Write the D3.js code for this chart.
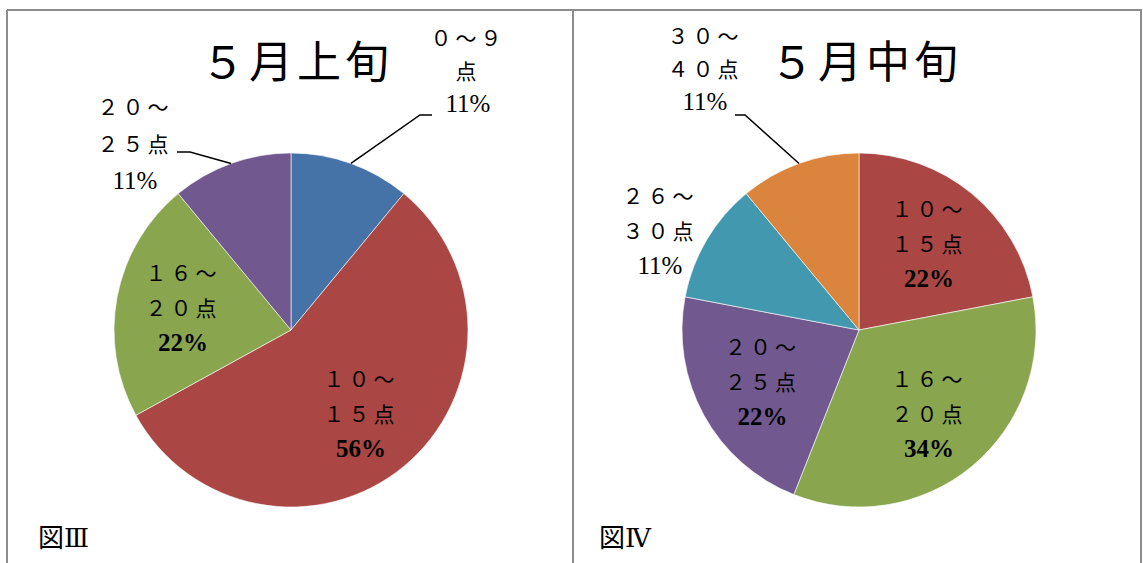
<!DOCTYPE html>
<html>
<head>
<meta charset="utf-8">
<script src="https://cdn.jsdelivr.net/npm/d3@7"></script>
<style>
	body { margin: 0; background: #fff; }
	svg text { font-family: "Liberation Serif", "DejaVu Serif", "Noto Sans CJK JP", serif; fill: #000; }
</style>
</head>
<body>
<script>
// data: 図Ⅲ (5月上旬)
const catsA = ["０～９\n点", "１０～\n１５点", "１６～\n２０点", "２０～\n２５点"];
const valsA = [11, 56, 22, 11];
const colorsA = ["#4572A7", "#AA4643", "#89A54E", "#71588F"];

// data: 図Ⅳ (5月中旬)
const catsB = ["１０～\n１５点", "１６～\n２０点", "２０～\n２５点", "２６～\n３０点", "３０～\n４０点"];
const valsB = [22, 34, 22, 11, 11];
const colorsB = ["#AA4643", "#89A54E", "#71588F", "#4198AF", "#DB843D"];

const titles = ["５月上旬", "５月中旬"];
const figLabels = ["図Ⅲ", "図Ⅳ"];

const W = 1143, H = 563;
const svg = d3.select("body").append("svg")
	.attr("width", W)
	.attr("height", H);

// frame
const frame = svg.append("g")
	.attr("stroke", "#8c8c8c")
	.attr("stroke-width", 2)
	.attr("fill", "none");
frame.append("line").attr("x1", 7).attr("x2", 1142).attr("y1", 10).attr("y2", 10);
[7, 573, 1141].forEach(x => {
	frame.append("line").attr("x1", x).attr("x2", x).attr("y1", 10).attr("y2", H);
});

/** outside label layout: label block centre relative to pie centre, plus optional leader elbow */
const outsideA = {
	0: {dx: 177, dy: -258, lh: 33, elbow: [[129, -215], [141, -215]]},
	3: {dx: -156, dy: -185, lh: 37, elbow: [[-101, -178], [-114, -178]]}
};
const outsideB = {
	3: {dx: -199, dy: -98, lh: 35, elbow: null},
	4: {dx: -154, dy: -260, lh: 33, elbow: [[-114, -215], [-124, -215]]}
};

function drawPie(cx, cats, vals, colors, outside, title, titleX, figLabel, figX) {
	const cy = 330;
	const R = 177;
	const g = svg.append("g").attr("transform", `translate(${cx},${cy})`);

	const pie = d3.pie().sort(null).value(d => d)(vals);
	const arc = d3.arc().innerRadius(0).outerRadius(R);
	const labelArc = d3.arc().innerRadius(110).outerRadius(110);

	g.selectAll("path")
		.data(pie)
		.join("path")
			.attr("d", arc)
			.attr("fill", (d, i) => colors[i])
			.attr("stroke", "#fff")
			.attr("stroke-width", 0.6);

	pie.forEach((d, i) => {
		const lines = cats[i].split("\n").concat([vals[i] + "%"]);
		let x, y, lh = 35;
		if (outside[i]) {
			x = outside[i].dx; y = outside[i].dy; lh = outside[i].lh;
			if (outside[i].elbow) {
				const mid = (d.startAngle + d.endAngle) / 2;
				const p0 = [Math.sin(mid) * R, -Math.cos(mid) * R];
				g.append("polyline")
					.attr("points", [p0].concat(outside[i].elbow).map(p => p.join(",")).join(" "))
					.attr("fill", "none")
					.attr("stroke", "#000")
					.attr("stroke-width", 1.5);
			}
		} else {
			[x, y] = labelArc.centroid(d);
		}
		const t = g.append("text")
			.attr("text-anchor", "middle")
			.attr("font-size", 21);
		lines.forEach((ln, k) => {
			t.append("tspan")
				.attr("x", x)
				.attr("y", y + (k - 1) * lh + 7)
				.attr("letter-spacing", k < 2 ? 4 : 0)
				.attr("font-size", k === 2 ? 25 : 21)
				.attr("font-weight", k === 2 && !outside[i] ? "bold" : "normal")
				.text(ln);
		});
	});

	svg.append("text")
		.attr("x", titleX)
		.attr("y", 78)
		.attr("text-anchor", "middle")
		.attr("font-size", 44)
		.attr("letter-spacing", 4)
		.text(title);

	svg.append("text")
		.attr("x", figX)
		.attr("y", 547)
		.attr("font-size", 26)
		.text(figLabel);
}

drawPie(291, catsA, valsA, colorsA, outsideA, titles[0], 297, figLabels[0], 38);
drawPie(859, catsB, valsB, colorsB, outsideB, titles[1], 866, figLabels[1], 599);
</script>
</body>
</html>
